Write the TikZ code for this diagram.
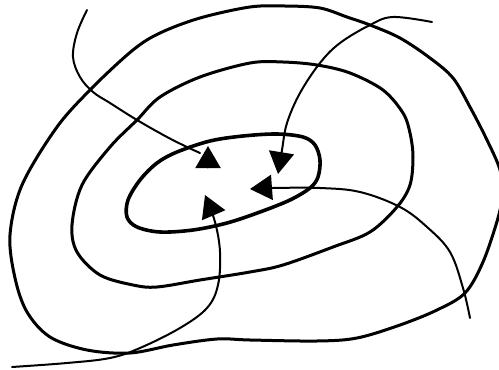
\documentclass[tikz,border=0pt]{standalone}
\usepackage{tikz}
\usetikzlibrary{arrows.meta}

\tikzset{
  contour/.style={line width=3pt, line join=round},
  flow/.style={line width=2pt, line cap=round, -{Triangle[length=22pt,width=25pt]}},
}

\begin{document}
\begin{tikzpicture}[x=1pt,y=-1pt]
  \useasboundingbox (0,0) rectangle (499,370);

  % the three closed level curves
  \draw[contour] plot[smooth cycle, tension=0.55] coordinates {
    (250,7) (285,6) (320,8) (347,17) (370,25) (400,38) (430,58) (453,78)
    (470,107) (487,140) (500,170) (502,195) (498,218) (483,262) (465,293)
    (437,310) (400,325) (357,338) (317,341) (250,340) (217,339) (173,345)
    (130,353) (87,350) (50,337) (27,312) (15,278) (10,235) (22,185)
    (57,127) (93,87) (133,50) (160,33) (200,18)};
  \draw[contour] plot[smooth cycle, tension=0.55] coordinates {
    (250,63) (283,62) (317,65) (350,73) (383,90) (403,113) (410,133)
    (413,157) (410,185) (397,207) (370,232) (333,247) (283,265) (250,272)
    (200,280) (157,287) (133,285) (100,275) (77,252) (72,225) (82,185)
    (110,147) (137,120) (160,97) (200,77)};
  \draw[contour, line width=3.6pt] plot[smooth cycle, tension=0.55] coordinates {
    (210,141) (243,136) (277,134) (303,137) (315,145) (320,160) (318,177)
    (310,188) (290,200) (260,212) (227,223) (193,230) (160,232) (137,227)
    (127,217) (128,200) (140,180) (157,163) (177,152)};

  % flow lines running into the centre
  \draw[line width=2pt, line cap=round] plot[smooth, tension=0.6] coordinates {
    (87,10) (77,33) (73,57) (80,77) (93,92) (110,103) (137,120) (167,137)
    (187,147) (200,153)};
  \draw[flow] (208,165) -- (208,146);
  \draw[flow] plot[smooth, tension=0.6] coordinates {
    (12,367) (67,363) (110,358) (140,348) (180,328) (207,308) (218,285)
    (220,252) (215,222) (205,195)};
  \draw[flow] plot[smooth, tension=0.6] coordinates {
    (432,22) (393,17) (370,25) (340,43) (320,63) (300,93) (287,123)
    (282,150) (278,174)};
  \draw[flow] plot[smooth, tension=0.6] coordinates {
    (470,318) (463,288) (450,252) (427,227) (400,207) (360,192) (320,188)
    (273,188) (250,189)};
\end{tikzpicture}
\end{document}
